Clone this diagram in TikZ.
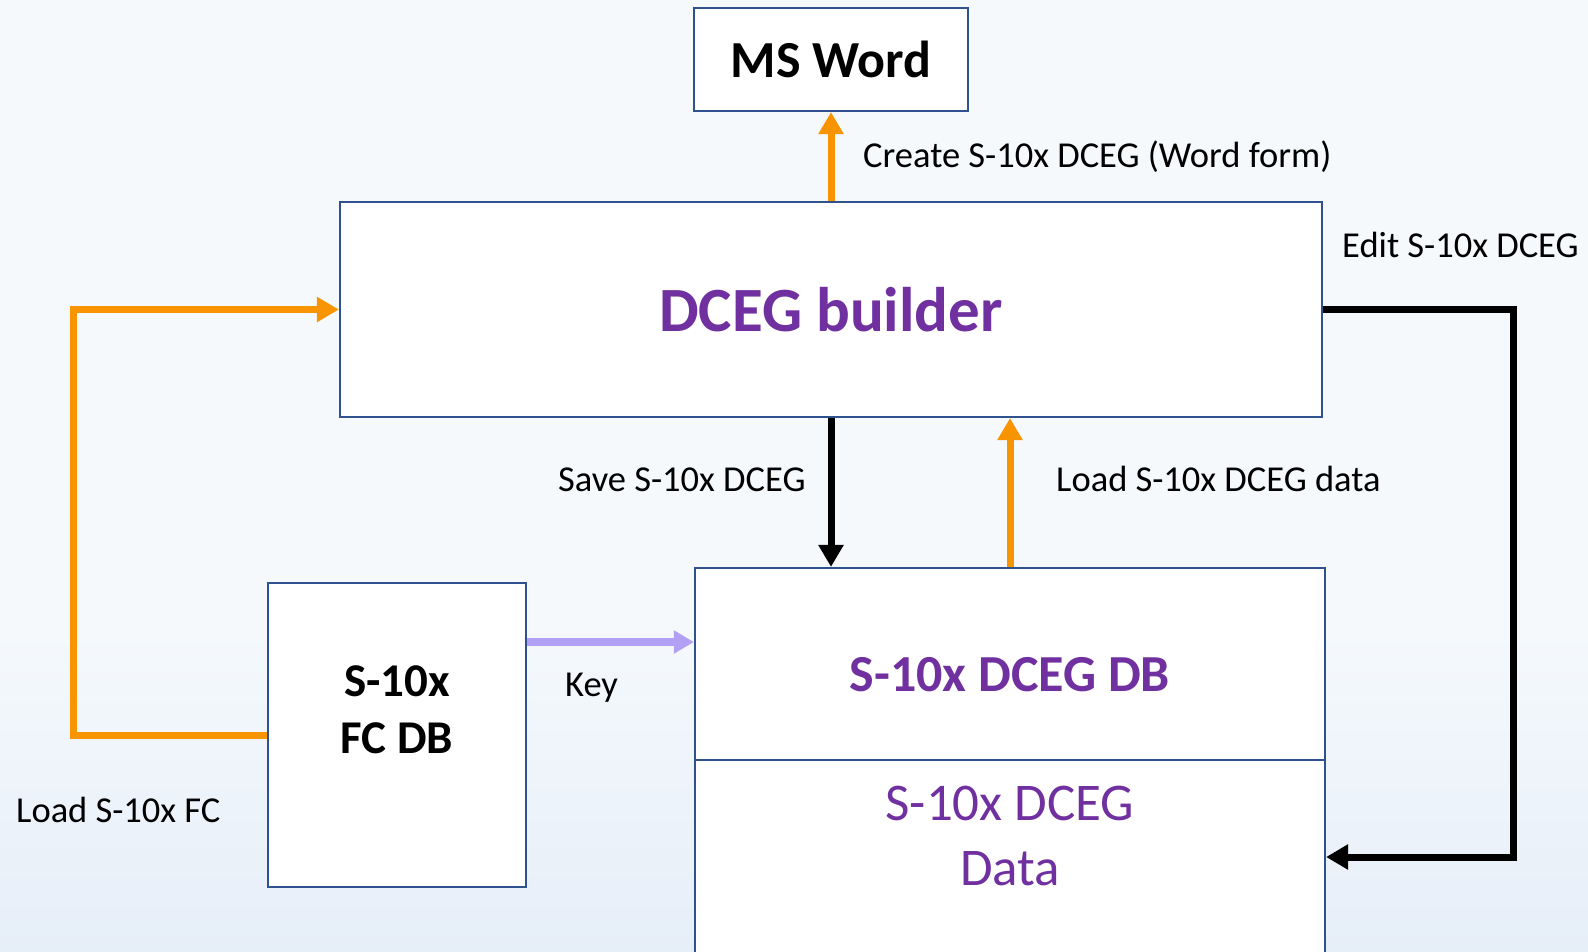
\documentclass[tikz,border=0pt]{standalone}
\usepackage{fontspec}
\setmainfont{Carlito}
\usetikzlibrary{arrows.meta}
\definecolor{bgtop}{RGB}{245,249,252}
\definecolor{bgbot}{RGB}{230,238,248}
\definecolor{boxblue}{RGB}{47,82,143}
\definecolor{dpurple}{RGB}{112,48,160}
\definecolor{arrorange}{RGB}{247,148,0}
\definecolor{keypurple}{RGB}{178,160,245}
\pgfdeclareverticalshading{bgshade}{100bp}{color(0bp)=(bgbot); color(25bp)=(bgbot); color(42bp)=(bgtop); color(100bp)=(bgtop)}
\begin{document}
\begin{tikzpicture}[x=1pt,y=-1pt,
  box/.style={draw=boxblue,line width=2.2pt,fill=white,inner sep=0pt},
  lbl/.style={anchor=base west,inner sep=0pt,font=\fontsize{36.5}{44}\selectfont},
  conn/.style={line width=7pt,-{Triangle[length=22pt,width=24pt]}},
  oarrow/.style={conn,draw=arrorange},
  barrow/.style={conn,draw=black},
  parrow/.style={conn,draw=keypurple,line width=7.5pt,-{Triangle[length=20pt,width=22pt]}},
  bigbold/.style={font=\bfseries\fontsize{52}{60}\selectfont}
]
\clip (0,0) rectangle (1588,951);
\shade[shading=bgshade] (0,0) rectangle (1588,951);

% boxes
\node[box,minimum width=274pt,minimum height=103pt,bigbold] (word) at (831,59.5) {MS Word};
\node[box,minimum width=982pt,minimum height=215pt,text=dpurple,font=\bfseries\fontsize{63}{70}\selectfont] (builder) at (831,309.5) {DCEG builder};
\node[box,minimum width=258pt,minimum height=304pt] (fcdb) at (397,735) {};
\node[box,minimum width=630pt,minimum height=192pt] (dbtop) at (1010,664) {};
\node[box,minimum width=630pt,minimum height=194pt] (dbdata) at (1010,857) {};

% box texts
\node[inner sep=0pt,align=center,font=\bfseries\fontsize{47}{57}\selectfont] (fctext) at (397,710) {S-10x\\FC DB};
\node[inner sep=0pt,bigbold,text=dpurple] (dbtitle) at (1010,675) {S-10x DCEG DB};
\node[inner sep=0pt,align=center,text=dpurple,font=\fontsize{53}{65}\selectfont] (datatext) at (1010,835.5) {S-10x DCEG\\Data};

% helper coordinates
\coordinate (keyy) at (0,642);
\coordinate (leftx) at (73,0);
\coordinate (rightx) at (1513,0);

% connectors
\draw[oarrow] (builder.north) -- (word.south);
\draw[barrow] (builder.south) -- (builder.south |- dbtop.north);
\draw[oarrow] (dbtop.north) -- (dbtop.north |- builder.south);
\draw[parrow] (fcdb.east |- keyy) -- (dbtop.west |- keyy);
\draw[oarrow] (fcdb.west) -- (fcdb.west -| leftx) |- (builder.west);
\draw[barrow] (builder.east) -- (builder.east -| rightx) |- (dbdata.east);

% labels
\node[lbl] (createlbl) at (863,167) {Create S-10x DCEG (Word form)};
\node[lbl] (editlbl) at (1342,257) {Edit S-10x DCEG};
\node[lbl] (savelbl) at (558,491) {Save S-10x DCEG};
\node[lbl] (loaddatalbl) at (1056,491) {Load S-10x DCEG data};
\node[lbl] (keylbl) at (565,696) {Key};
\node[lbl] (loadfclbl) at (16,822) {Load S-10x FC};
\end{tikzpicture}
\end{document}
